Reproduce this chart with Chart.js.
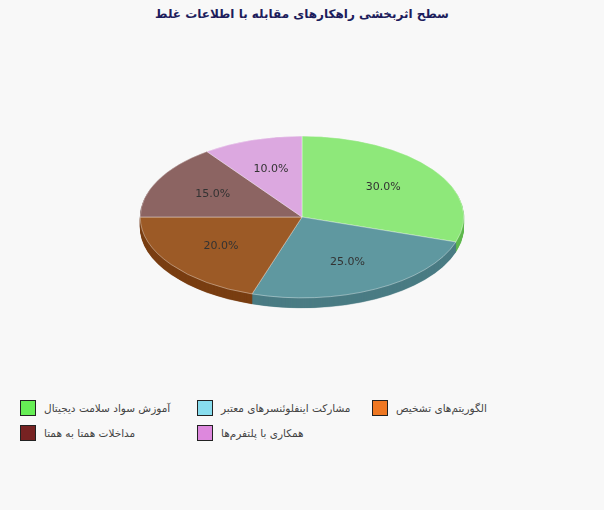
<!DOCTYPE html>
<html><head><meta charset="utf-8">
<script src="https://cdn.jsdelivr.net/npm/chart.js@4"></script>
<style>
body{margin:0;background:#f8f8f8;font-family:Tahoma,"DejaVu Sans",sans-serif;}
#wrap{position:relative;width:604px;height:510px;}
#title{position:absolute;top:7px;left:0;width:604px;text-align:center;font-weight:bold;font-size:12px;color:#1d1d5c;}
#cv{position:absolute;left:0;top:50px;}
.item{position:absolute;font-size:10.5px;color:#444;display:flex;align-items:center;}
.box{width:14px;height:14px;border:1px solid #222;margin-right:8px;}
</style></head><body>
<div id="wrap">
<div id="title">سطح اثربخشی راهکارهای مقابله با اطلاعات غلط</div>
<canvas id="cv" width="604" height="334"></canvas>
<div id="legend"></div>
</div>
<script>
const categories = ['آموزش سواد سلامت دیجیتال', 'مشارکت اینفلوئنسرهای معتبر', 'الگوریتم‌های  تشخیص', 'مداخلات همتا به همتا', 'همکاری با پلتفرم‌ها'];
const values = [30, 25, 20, 15, 10];
const sliceColors = ['#8ee87a', '#5f98a0', '#9c5a26', '#8c6462', '#dca8e0'];
const sideColors = ['#5fb84e', '#4a7c84', '#7a3f12', '#6a4442', '#b680ba'];
const legendColors = ['#66ee55', '#88ddee', '#ee7722', '#772222', '#dd88dd'];

// legend
const legendPos = [[20, 400], [197, 400], [372, 400], [20, 425], [197, 425]];
const legend = document.getElementById('legend');
categories.forEach((c, i) => {
    const d = document.createElement('div');
    d.className = 'item';
    d.style.left = legendPos[i][0] + 'px';
    d.style.top = legendPos[i][1] + 'px';
    d.innerHTML = '<span class="box" style="background:' + legendColors[i] + '"></span><span dir="rtl">' + c + '</span>';
    legend.appendChild(d);
});

const SQUASH = 0.5, DEPTH = 10;
const pie3d = {
    id: 'pie3d',
    beforeDatasetsDraw(chart) {
        const ctx = chart.ctx, meta = chart.getDatasetMeta(0);
        const cy = meta.data[0].y;
        ctx.save();
        ctx.translate(0, cy);
        ctx.scale(1, SQUASH);
        ctx.translate(0, -cy);
        // side walls
        for (let dy = DEPTH / SQUASH; dy > 0; dy -= 1) {
            ctx.save();
            ctx.translate(0, dy);
            meta.data.forEach((arc, i) => {
                const o = arc.options;
                const bg = o.backgroundColor, bc = o.borderColor;
                o.backgroundColor = sideColors[i];
                o.borderColor = sideColors[i];
                arc.draw(ctx);
                o.backgroundColor = bg;
                o.borderColor = bc;
            });
            ctx.restore();
        }
    },
    afterDatasetsDraw(chart) {
        const ctx = chart.ctx, meta = chart.getDatasetMeta(0);
        ctx.restore();
        const total = values.reduce((a, b) => a + b, 0);
        ctx.save();
        ctx.font = '11px Tahoma, "DejaVu Sans", sans-serif';
        ctx.fillStyle = '#333';
        ctx.textAlign = 'center';
        ctx.textBaseline = 'middle';
        meta.data.forEach((arc, i) => {
            const a = (arc.startAngle + arc.endAngle) / 2;
            const r = arc.outerRadius * 0.62;
            const x = arc.x + Math.cos(a) * r;
            const y = arc.y + Math.sin(a) * r * SQUASH;
            ctx.fillText((values[i] / total * 100).toFixed(1) + '%', x, y);
        });
        ctx.restore();
    }
};

new Chart(document.getElementById('cv'), {
    type: 'pie',
    data: {
        labels: categories,
        datasets: [{
            data: values,
            backgroundColor: sliceColors,
            borderColor: '#ffffff',
            borderWidth: 0.5
        }]
    },
    options: {
        responsive: false,
        animation: false,
        layout: { padding: { top: 5, bottom: 5 } },
        plugins: { legend: { display: false }, tooltip: { enabled: false } }
    },
    plugins: [pie3d]
});
</script>
</body></html>
